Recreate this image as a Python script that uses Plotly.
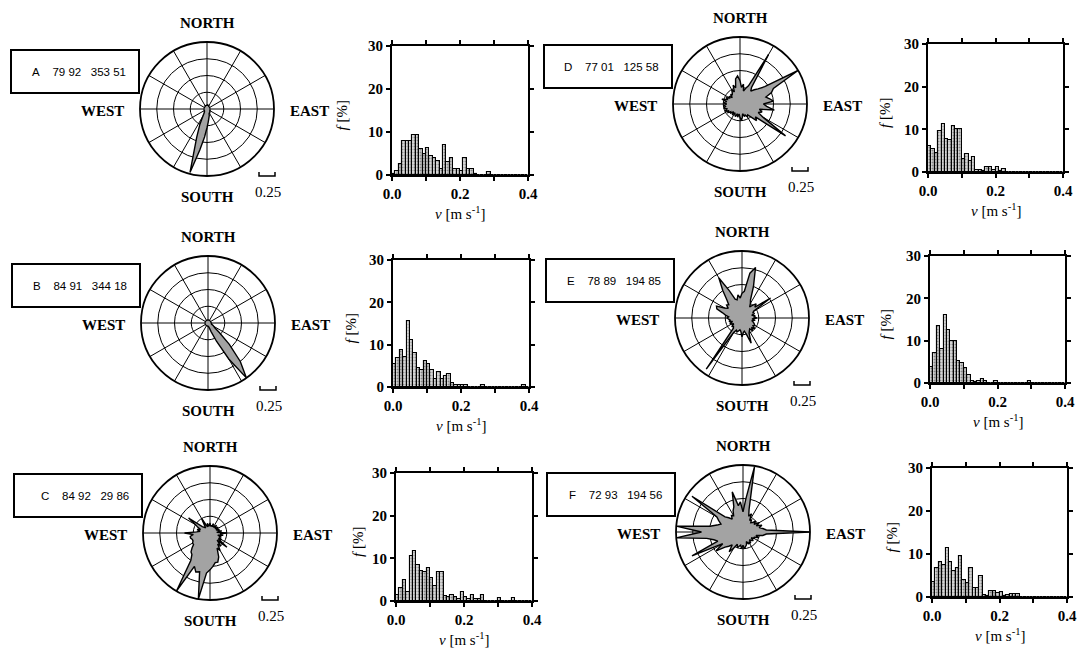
import plotly.graph_objects as go

W, H = 1078, 649

# ---------------- data ----------------
PANELS = ["A", "B", "C", "D", "E", "F"]
BOX_NUMS = {
    "A": ("79 92", "353 51"),
    "B": ("84 91", "344 18"),
    "C": ("84 92", "29 86"),
    "D": ("77 01", "125 58"),
    "E": ("78 89", "194 85"),
    "F": ("72 93", "194 56"),
}

# direction bins (degrees clockwise from north)
DIRS = [0, 5, 10, 15, 20, 25, 30, 35, 40, 45, 50, 55, 60, 65, 70, 75, 80, 85,
        90, 95, 100, 105, 110, 115, 120, 125, 130, 135, 140, 145, 150, 155, 160, 165, 170, 175,
        180, 185, 190, 195, 200, 205, 210, 215, 220, 225, 230, 235, 240, 245, 250, 255, 260, 265,
        270, 275, 280, 285, 290, 295, 300, 305, 310, 315, 320, 325, 330, 335, 340, 345, 350, 355]

ROSE_A = [0.06, 0.05, 0.07, 0.05, 0.06, 0.05, 0.06, 0.05, 0.04, 0.05, 0.04, 0.05, 0.04, 0.05, 0.04, 0.05, 0.04, 0.05,
          0.04, 0.05, 0.04, 0.05, 0.04, 0.05, 0.05, 0.06, 0.05, 0.06, 0.07, 0.06, 0.08, 0.07, 0.10, 0.12, 0.15, 0.20,
          0.28, 0.42, 0.62, 0.98, 0.45, 0.25, 0.12, 0.08, 0.06, 0.05, 0.06, 0.05, 0.04, 0.05, 0.04, 0.05, 0.04, 0.05,
          0.04, 0.05, 0.04, 0.05, 0.04, 0.05, 0.04, 0.05, 0.04, 0.05, 0.04, 0.05, 0.06, 0.05, 0.06, 0.05, 0.06, 0.05]
ROSE_B = [0.05, 0.04, 0.05, 0.04, 0.05, 0.04, 0.05, 0.04, 0.05, 0.04, 0.05, 0.04, 0.05, 0.04, 0.05, 0.04, 0.05, 0.04,
          0.05, 0.05, 0.06, 0.05, 0.06, 0.08, 0.10, 0.12, 0.22, 0.45, 0.75, 1.00, 0.62, 0.30, 0.14, 0.08, 0.06, 0.05,
          0.05, 0.04, 0.05, 0.04, 0.05, 0.04, 0.05, 0.04, 0.05, 0.04, 0.05, 0.04, 0.05, 0.04, 0.05, 0.04, 0.05, 0.04,
          0.05, 0.04, 0.05, 0.04, 0.05, 0.04, 0.05, 0.04, 0.05, 0.04, 0.05, 0.04, 0.05, 0.04, 0.05, 0.04, 0.05, 0.04]
ROSE_C = [0.15, 0.10, 0.12, 0.10, 0.15, 0.10, 0.12, 0.10, 0.15, 0.12, 0.10, 0.15, 0.12, 0.10, 0.15, 0.12, 0.18, 0.10,
          0.25, 0.15, 0.20, 0.12, 0.18, 0.15, 0.20, 0.15, 0.33, 0.15, 0.25, 0.20, 0.30, 0.25, 0.38, 0.45, 0.45, 0.50,
          0.55, 0.60, 1.00, 0.60, 0.62, 0.55, 1.00, 0.50, 0.42, 0.40, 0.35, 0.30, 0.30, 0.28, 0.28, 0.30, 0.30, 0.25,
          0.38, 0.20, 0.15, 0.20, 0.15, 0.20, 0.25, 0.39, 0.15, 0.12, 0.10, 0.15, 0.25, 0.12, 0.10, 0.15, 0.10, 0.12]
ROSE_D = [0.35, 0.25, 0.30, 0.20, 0.25, 0.30, 0.85, 0.30, 0.25, 0.30, 0.35, 0.45, 1.00, 0.55, 0.50, 0.40, 0.45, 0.50,
          0.35, 0.40, 0.52, 0.30, 0.35, 0.30, 0.40, 0.83, 0.30, 0.35, 0.25, 0.20, 0.22, 0.18, 0.20, 0.15, 0.20, 0.25,
          0.20, 0.15, 0.20, 0.15, 0.20, 0.18, 0.15, 0.20, 0.15, 0.20, 0.18, 0.22, 0.20, 0.25, 0.20, 0.25, 0.22, 0.25,
          0.20, 0.25, 0.20, 0.28, 0.20, 0.22, 0.18, 0.20, 0.15, 0.20, 0.18, 0.20, 0.25, 0.20, 0.30, 0.25, 0.38, 0.42]
ROSE_E = [0.37, 0.40, 0.68, 0.78, 0.50, 0.30, 0.25, 0.20, 0.25, 0.30, 0.25, 0.52, 0.20, 0.18, 0.20, 0.15, 0.20, 0.18,
          0.22, 0.15, 0.20, 0.15, 0.18, 0.20, 0.22, 0.20, 0.25, 0.20, 0.25, 0.20, 0.22, 0.25, 0.40, 0.25, 0.20, 0.22,
          0.28, 0.20, 0.18, 0.20, 0.22, 0.20, 0.25, 0.93, 0.20, 0.18, 0.20, 0.15, 0.18, 0.20, 0.15, 0.20, 0.18, 0.20,
          0.22, 0.20, 0.25, 0.30, 0.40, 0.42, 0.30, 0.25, 0.30, 0.28, 0.35, 0.50, 0.69, 0.45, 0.30, 0.28, 0.35, 0.30]
ROSE_F = [0.30, 0.50, 0.99, 0.35, 0.25, 0.30, 0.20, 0.22, 0.18, 0.20, 0.25, 0.20, 0.28, 0.22, 0.30, 0.25, 0.30, 0.35,
          1.00, 0.35, 0.30, 0.20, 0.25, 0.18, 0.20, 0.15, 0.20, 0.18, 0.15, 0.20, 0.18, 0.20, 0.15, 0.20, 0.22, 0.25,
          0.20, 0.25, 0.20, 0.22, 0.25, 0.20, 0.28, 0.36, 0.25, 0.30, 0.35, 0.49, 0.35, 0.84, 0.40, 0.45, 0.55, 1.00,
          0.62, 1.00, 0.50, 0.40, 0.35, 0.40, 0.45, 0.93, 0.35, 0.30, 0.25, 0.30, 0.28, 0.35, 0.40, 0.62, 0.40, 0.45]

# speed histogram bins (left edges, m/s), width 0.01
BIN_START = [0.00, 0.01, 0.02, 0.03, 0.04, 0.05, 0.06, 0.07, 0.08, 0.09,
             0.10, 0.11, 0.12, 0.13, 0.14, 0.15, 0.16, 0.17, 0.18, 0.19,
             0.20, 0.21, 0.22, 0.23, 0.24, 0.25, 0.26, 0.27, 0.28, 0.29,
             0.30, 0.31, 0.32, 0.33, 0.34, 0.35, 0.36, 0.37, 0.38, 0.39]
HIST_A = [0.3, 1.0, 2.5, 8.0, 8.0, 8.0, 9.3, 9.3, 6.0, 5.0, 6.3, 4.5, 4.0, 3.2, 1.5, 7.0, 3.0, 4.0, 1.5, 1.5,
          1.0, 4.0, 1.5, 1.5, 0.3, 0, 0, 0, 0.6, 0, 0, 0, 0, 0, 0, 0, 0, 0, 0, 0]
HIST_B = [5.5, 6.8, 8.7, 7.0, 15.5, 11.0, 8.0, 4.5, 4.0, 6.2, 5.5, 4.0, 2.0, 3.5, 2.0, 2.5, 3.0, 1.0, 0.5, 0.5,
          0.5, 0.5, 0, 0, 0, 0, 0.5, 0, 0, 0, 0, 0, 0, 0, 0, 0, 0, 0, 0.5, 0]
HIST_C = [1.5, 3.0, 5.0, 2.0, 10.5, 11.8, 8.5, 7.0, 6.8, 7.8, 5.5, 3.5, 6.8, 6.8, 1.2, 1.0, 1.5, 1.0, 0.5, 2.0,
          1.0, 0.5, 1.5, 0.5, 0.5, 1.5, 0, 0, 0, 0, 0.8, 0, 0, 0, 0.8, 0, 0, 0, 0, 0]
HIST_D = [6.0, 5.3, 4.5, 9.5, 11.3, 7.8, 7.5, 10.7, 10.0, 10.0, 3.0, 4.2, 2.5, 3.5, 0.5, 0.5, 0.3, 1.2, 1.2, 0.5,
          1.2, 0.3, 0.7, 0, 0, 0, 0, 0, 0, 0, 0, 0, 0, 0, 0, 0, 0, 0, 0, 0]
HIST_E = [3.8, 7.0, 13.5, 8.0, 16.0, 12.5, 10.0, 10.0, 5.3, 4.7, 3.5, 2.0, 0.5, 0.3, 0.5, 1.0, 0.5, 0, 0, 0.5,
          0, 0, 0, 0, 0, 0, 0, 0, 0, 0.5, 0, 0, 0, 0, 0, 0, 0, 0, 0, 0]
HIST_F = [3.5, 6.8, 8.2, 7.5, 11.5, 8.2, 6.0, 6.8, 9.5, 4.0, 3.3, 6.8, 2.0, 2.0, 4.8, 0.5, 0.3, 1.3, 1.3, 1.0,
          1.2, 0.3, 0.5, 0.7, 0.7, 0.7, 0, 0, 0, 0, 0, 0, 0, 0, 0, 0, 0, 0, 0, 0]

ROSES = [ROSE_A, ROSE_B, ROSE_C, ROSE_D, ROSE_E, ROSE_F]
HISTS = [HIST_A, HIST_B, HIST_C, HIST_D, HIST_E, HIST_F]

X_TICKVALS = [0, 0.1, 0.2, 0.3, 0.4]
X_TICKTEXT = ["0.0", "", "0.2", "", "0.4"]
Y_TICKVALS = [0, 10, 20, 30]
Y_TICKTEXT = ["0", "10", "20", "30"]

# ---------------- layout geometry (pixels) ----------------
CENTERS = [(207, 109), (208, 323), (210, 533), (740, 104), (742, 318), (743, 532)]
RAD = 67
HIST_BOX = [(392, 46, 528, 175), (393, 260, 529, 387), (396, 473, 532, 601),
            (928, 44, 1063, 172), (930, 256, 1065, 383), (932, 468, 1067, 597)]
YT_OFF = [50, 43, 38, 43, 45, 41]

SERIF = "Liberation Serif"
SANS = "Liberation Sans"


def fx(x):
    return x / W


def fy(y):
    return 1 - y / H


fig = go.Figure()
annotations = []
shapes = []
layout = {}

for i, p in enumerate(PANELS):
    cx, cy = CENTERS[i]
    sub = "polar" if i == 0 else f"polar{i+1}"
    vals = ROSES[i]
    fig.add_trace(go.Scatterpolar(
        r=vals + [vals[0]], theta=DIRS + [DIRS[0]], mode="lines",
        fill="toself", fillcolor="#a3a3a3",
        line=dict(color="black", width=1.4),
        subplot=sub, showlegend=False, hoverinfo="skip"))
    layout[sub] = dict(
        domain=dict(x=[fx(cx - RAD), fx(cx + RAD)], y=[fy(cy + RAD), fy(cy - RAD)]),
        bgcolor="white",
        radialaxis=dict(range=[0, 1], tickvals=[0.25, 0.5, 0.75], showticklabels=False,
                        ticks="", showline=False, gridcolor="black", gridwidth=1.3),
        angularaxis=dict(rotation=90, direction="clockwise", dtick=30, showticklabels=False,
                         ticks="", showline=True, linecolor="black", linewidth=1.8,
                         gridcolor="black", gridwidth=1.3),
    )
    # compass labels
    cf = dict(family=SERIF, size=15, color="black", weight="bold")
    annotations += [
        dict(x=fx(cx), y=fy(cy - 86), text="NORTH", showarrow=False, font=cf,
             xref="paper", yref="paper", xanchor="center", yanchor="middle"),
        dict(x=fx(cx), y=fy(cy + 88), text="SOUTH", showarrow=False, font=cf,
             xref="paper", yref="paper", xanchor="center", yanchor="middle"),
        dict(x=fx(cx - 81), y=fy(cy + 2), text="WEST", showarrow=False, font=cf,
             xref="paper", yref="paper", xanchor="right", yanchor="middle"),
        dict(x=fx(cx + 81), y=fy(cy + 2), text="EAST", showarrow=False, font=cf,
             xref="paper", yref="paper", xanchor="left", yanchor="middle"),
        dict(x=fx(cx + 61), y=fy(cy + 83), text="0.25", showarrow=False,
             font=dict(family=SERIF, size=15, color="black"),
             xref="paper", yref="paper", xanchor="center", yanchor="middle"),
    ]
    # scale bracket
    x1, x2 = fx(cx + 52), fx(cx + 68)
    yt, yb = fy(cy + 63), fy(cy + 67)
    shapes.append(dict(type="path", xref="paper", yref="paper",
                       path=f"M {x1},{yt} L {x1},{yb} L {x2},{yb} L {x2},{yt}",
                       line=dict(color="black", width=1.5)))
    # label box
    shapes.append(dict(type="rect", xref="paper", yref="paper",
                       x0=fx(cx - 196), x1=fx(cx - 68), y0=fy(cy - 16), y1=fy(cy - 59),
                       line=dict(color="black", width=2), fillcolor="white"))
    n1, n2 = BOX_NUMS[p]
    nb = "\u00a0"
    annotations.append(dict(
        x=fx(cx - 79), y=fy(cy - 37), xref="paper", yref="paper", showarrow=False,
        xanchor="right", yanchor="middle",
        text=p + nb * 4 + n1 + nb * 3 + n2,
        font=dict(family=SANS, size=11.5, color="black")))

    # histogram
    xl, yt_, xr, yb_ = HIST_BOX[i]
    xa = "x" if i == 0 else f"x{i+1}"
    ya = "y" if i == 0 else f"y{i+1}"
    fig.add_trace(go.Bar(
        x=BIN_START, y=HISTS[i], width=0.01, offset=0,
        marker=dict(color="#d0d0d0",
                    line=dict(color="black", width=1.1),
                    pattern=dict(shape=".", fgcolor="#333333", bgcolor="#d8d8d8",
                                 size=3, solidity=0.35)),
        xaxis=xa, yaxis=ya, showlegend=False, hoverinfo="skip"))
    tf = dict(family=SERIF, size=15, color="black", weight="bold")
    xkey = "xaxis" if i == 0 else f"xaxis{i+1}"
    ykey = "yaxis" if i == 0 else f"yaxis{i+1}"
    layout[xkey] = dict(domain=[fx(xl), fx(xr)], anchor=ya, range=[0, 0.4],
                        tickvals=X_TICKVALS, ticktext=X_TICKTEXT, ticks="outside",
                        ticklen=4, tickwidth=1.5, tickcolor="black", showline=True,
                        linecolor="black", linewidth=2, mirror="ticks", showgrid=False,
                        zeroline=False, tickfont=tf, automargin=False)
    layout[ykey] = dict(domain=[fy(yb_), fy(yt_)], anchor=xa, range=[0, 30],
                        tickvals=Y_TICKVALS, ticktext=Y_TICKTEXT, ticks="outside",
                        ticklen=4, tickwidth=1.5, tickcolor="black", showline=True,
                        linecolor="black", linewidth=2, mirror="ticks", showgrid=False,
                        zeroline=False, tickfont=tf, automargin=False)
    annotations.append(dict(
        x=fx(xl - YT_OFF[i]), y=fy((yt_ + yb_) / 2 + 5), xref="paper", yref="paper",
        showarrow=False, textangle=-90, xanchor="center", yanchor="middle",
        text="<i>f</i> [%]", font=dict(family=SERIF, size=15, color="black")))
    annotations.append(dict(
        x=fx((xl + xr) / 2), y=fy(yb_ + 38), xref="paper", yref="paper",
        showarrow=False, xanchor="center", yanchor="middle",
        text="<i>v</i> [m s<sup>-1</sup>]", font=dict(family=SERIF, size=15, color="black")))

fig.update_layout(
    width=W, height=H, margin=dict(l=0, r=0, t=0, b=0, pad=0, autoexpand=False),
    paper_bgcolor="white", plot_bgcolor="white",
    annotations=annotations, shapes=shapes, bargap=0, showlegend=False,
    **layout)

fig.write_html("out.html", config={"displayModeBar": False},
               post_script="document.body.style.margin='0px';document.body.style.overflow='hidden';")
